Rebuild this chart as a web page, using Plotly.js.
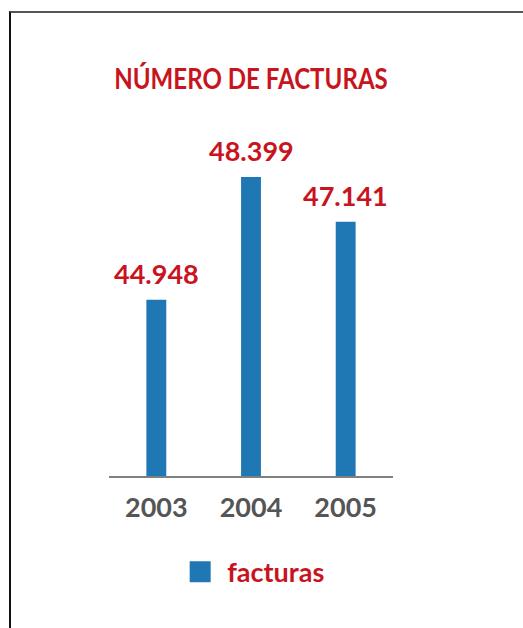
<!DOCTYPE html>
<html><head><meta charset="utf-8">
<script src="https://cdn.plot.ly/plotly-3.0.1.min.js"></script>
<style>
html,body{margin:0;padding:0;background:#fff;}
#frame{position:absolute;left:9px;top:11px;width:514px;height:617px;border-left:2px solid #111;border-top:2px solid #555;}
#chart{position:absolute;left:0;top:0;width:523px;height:628px;}
.gtitle{transform-box:fill-box;transform-origin:center;transform:scaleX(0.86);}
</style></head><body>
<div id="frame"></div><div id="chart"></div>
<script>
const years = ['2003', '2004', '2005'];
const facturas = [44948, 48399, 47141];
const seriesName = 'facturas';
const chartTitle = 'NÚMERO DE FACTURAS';

const FONT = 'Lato, "Open Sans", sans-serif';
const RED = '#c8141e';

function fmt(v) { return String(v).replace(/\B(?=(\d{3})+(?!\d))/g, '.'); }

const trace = {
  type: 'bar',
  x: years,
  y: facturas,
  name: seriesName,
  width: 0.21,
  marker: {color: '#1f77b4'},
  hoverinfo: 'x+y'
};

const annotations = years.map((yr, i) => ({
  x: i, y: facturas[i], xref: 'x', yref: 'y',
  text: fmt(facturas[i]), showarrow: false,
  xanchor: 'center', yanchor: 'bottom', yshift: 8,
  font: {family: FONT, size: 27, color: RED, weight: 'bold'}
}));

const layout = {
  width: 523, height: 628,
  margin: {l: 109, r: 130, t: 120, b: 151.5, pad: 0},
  paper_bgcolor: 'rgba(0,0,0,0)',
  plot_bgcolor: 'rgba(0,0,0,0)',
  title: {
    text: chartTitle, xref: 'paper', x: 0.5, xanchor: 'center',
    yref: 'container', y: 1 - 79 / 628, yanchor: 'middle',
    font: {family: FONT, size: 28, color: RED, weight: 'bold'}
  },
  xaxis: {
    type: 'category', range: [-0.5, 2.5],
    showline: true, linecolor: '#808080', linewidth: 2,
    ticks: '', showgrid: false, zeroline: false,
    ticklabelstandoff: 7,
    tickfont: {family: FONT, size: 27, color: '#555555', weight: 'bold'}
  },
  yaxis: {
    range: [40000, 50000], visible: false, showgrid: false, zeroline: false
  },
  showlegend: true,
  legend: {
    orientation: 'h', x: 0.527, xanchor: 'center', xref: 'paper',
    y: -0.27, yanchor: 'middle',
    font: {family: FONT, size: 27, color: RED, weight: 'bold'}
  },
  annotations: annotations
};

Plotly.newPlot('chart', [trace], layout, {displayModeBar: false, staticPlot: true}).then(gd => {
  gd.querySelectorAll('.legendpoints path').forEach(p => {
    p.setAttribute('d', 'M3.5,10.5H-17.5V-10.5H3.5Z');
  });
});
</script>
</body></html>
